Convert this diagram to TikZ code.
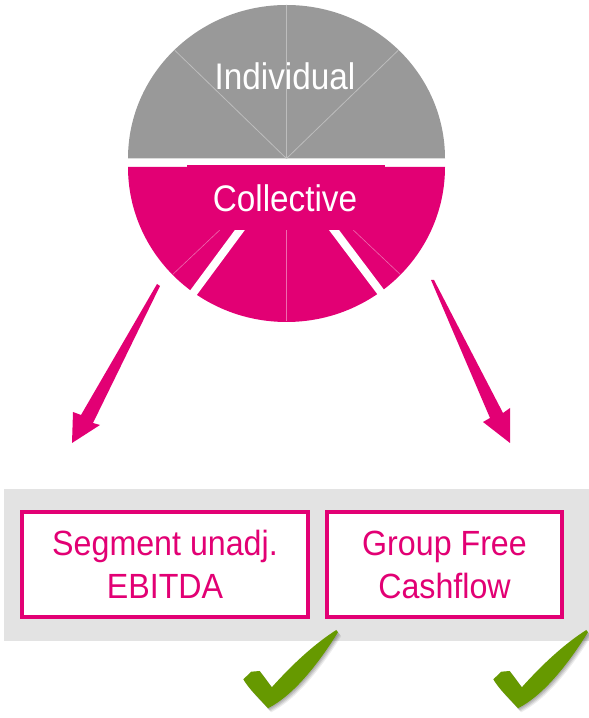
\documentclass[tikz,border=0pt]{standalone}
\usepackage{fontspec}
\newfontfamily\tfont[FakeStretch=0.9]{Liberation Sans}
\newfontfamily\bfont[FakeStretch=0.92]{Liberation Sans}
\usetikzlibrary{calc}
\definecolor{tmag}{HTML}{E20074}
\definecolor{tgrey}{HTML}{999999}
\definecolor{tgline}{HTML}{BDBDBD}
\definecolor{tpline}{HTML}{EE6AAE}
\definecolor{tpanel}{HTML}{E3E3E3}
\definecolor{tgreen}{RGB}{102,153,0}
\tikzset{
  lbl/.style={font=\tfont\fontsize{37}{44}\selectfont, text=white, inner sep=0pt, anchor=base},
  mbox/.style={draw=tmag, line width=4pt, fill=white, font=\bfont\fontsize{35}{43}\selectfont, text=tmag, align=center, inner sep=0pt},
  bigarrow/.style={fill=tmag},
  tick/.pic={
    \foreach \s/\o in {1/0.10,2/0.10,3/0.09,4/0.07}{
      \fill[black, opacity=\o, shift={(\s*0.8,-\s)}] (0,0) -- (8,7.6) -- (16.4,8.3) .. controls (22,1) .. (28.5,-8) .. controls (50,16) and (72,36) .. (93,49.3) -- (94.7,47) .. controls (74,14) and (50,-16) .. (24.7,-29) .. controls (15,-18) and (6,-10) .. cycle;
    }
    \fill[tgreen] (0,0) -- (8,7.6) -- (16.4,8.3) .. controls (22,1) .. (28.5,-8) .. controls (50,16) and (72,36) .. (93,49.3) -- (94.7,47) .. controls (74,14) and (50,-16) .. (24.7,-29) .. controls (15,-18) and (6,-10) .. cycle;
  }
}
\begin{document}
\begin{tikzpicture}[x=1pt,y=1pt]
\useasboundingbox (0,0) rectangle (589,718);
% grey upper half
\coordinate (gc) at (286.5,559.5);
\fill[tgrey] (128,559.5) arc[start angle=180,end angle=0,x radius=158.5pt,y radius=153.5pt] -- cycle;
\foreach \a in {45,90,135} \draw[tgline, line width=0.8pt] (gc) -- ++(\a:158pt and 153pt);
% magenta lower half
\coordinate (mc) at (286.5,551);
\fill[tmag] (128,551) arc[start angle=180,end angle=360,x radius=158.5pt,y radius=155pt] -- cycle;
\foreach \a in {224,270,316} \draw[tpline, line width=0.6pt] (mc) -- ++(\a:158pt and 154.5pt);
\foreach \a in {234,306.5} \draw[white, line width=8pt] (mc) -- ++(\a:164pt and 161pt);
\fill[tmag] (187,488) rectangle (385,553);
% labels
\node[lbl] (ind) at (285,628) {Individual};
\node[lbl] (col) at (285,506) {Collective};
% left arrow
\coordinate (la0) at (157,434);
\coordinate (la1) at (81,303);
\coordinate (la2) at (73,306);
\coordinate (la3) at (72,275);
\coordinate (la4) at (100,293);
\coordinate (la5) at (93,295);
\coordinate (la6) at (160,432);
\fill[bigarrow] (la0) -- (la1) -- (la2) -- (la3) -- (la4) -- (la5) -- (la6) -- cycle;
% right arrow
\coordinate (ra0) at (431,438);
\coordinate (ra1) at (490,300);
\coordinate (ra2) at (483,296);
\coordinate (ra3) at (510,275);
\coordinate (ra4) at (510,310);
\coordinate (ra5) at (503,305);
\coordinate (ra6) at (434,438);
\fill[bigarrow] (ra0) -- (ra1) -- (ra2) -- (ra3) -- (ra4) -- (ra5) -- (ra6) -- cycle;
% panel
\fill[tpanel] (4,77) rectangle (589,229);
\node[mbox, minimum width=286pt, minimum height=105pt] (seg) at (165,153.5) {Segment unadj.\\EBITDA};
\node[mbox, minimum width=235pt, minimum height=105pt] (gfc) at (444.5,153.5) {Group Free\\Cashflow};
% ticks
\pic at (243.3,38.7) {tick};
\pic at (493.3,38.7) {tick};
\end{tikzpicture}
\end{document}
